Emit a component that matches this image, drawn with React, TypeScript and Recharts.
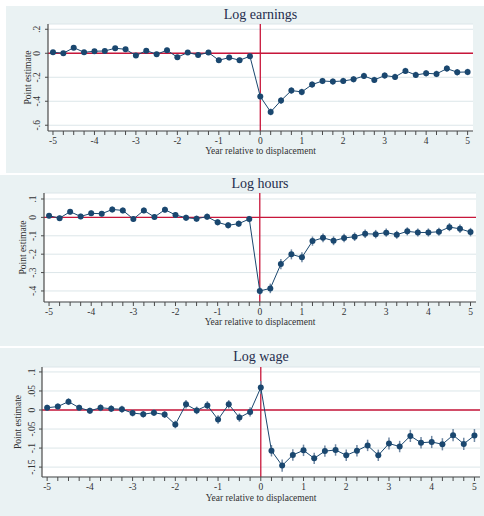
import React from "react";
import { LineChart, Line, XAxis, YAxis, CartesianGrid, ReferenceLine, ErrorBar } from "recharts";

const periods = [-5, -4.75, -4.5, -4.25, -4, -3.75, -3.5, -3.25, -3, -2.75, -2.5, -2.25, -2, -1.75, -1.5, -1.25, -1, -0.75, -0.5, -0.25, 0, 0.25, 0.5, 0.75, 1, 1.25, 1.5, 1.75, 2, 2.25, 2.5, 2.75, 3, 3.25, 3.5, 3.75, 4, 4.25, 4.5, 4.75, 5];

const earnings = [0.008, 0, 0.047, 0.008, 0.017, 0.019, 0.042, 0.033, -0.019, 0.022, -0.008, 0.025, -0.033, 0.006, -0.014, 0.006, -0.058, -0.036, -0.058, -0.025, -0.361, -0.489, -0.394, -0.311, -0.322, -0.261, -0.231, -0.236, -0.231, -0.217, -0.189, -0.222, -0.186, -0.197, -0.147, -0.181, -0.167, -0.172, -0.128, -0.158, -0.156];
const earningsCI = [0.018, 0.018, 0.019, 0.018, 0.018, 0.019, 0.019, 0.019, 0.019, 0.02, 0.02, 0.02, 0.02, 0.02, 0.021, 0.021, 0.021, 0.022, 0.022, 0.022, 0.026, 0.028, 0.028, 0.027, 0.027, 0.026, 0.026, 0.026, 0.026, 0.026, 0.026, 0.026, 0.026, 0.026, 0.026, 0.026, 0.026, 0.027, 0.027, 0.027, 0.027];

const hours = [0.009, -0.004, 0.031, 0.005, 0.022, 0.02, 0.043, 0.038, -0.009, 0.038, 0.002, 0.042, 0.013, -0.002, -0.007, 0.004, -0.027, -0.043, -0.034, -0.009, -0.4, -0.386, -0.254, -0.201, -0.217, -0.129, -0.111, -0.127, -0.112, -0.105, -0.089, -0.091, -0.083, -0.094, -0.076, -0.082, -0.082, -0.078, -0.053, -0.062, -0.08];
const hoursCI = [0.014, 0.014, 0.015, 0.015, 0.015, 0.015, 0.016, 0.016, 0.016, 0.016, 0.016, 0.016, 0.016, 0.017, 0.017, 0.017, 0.017, 0.017, 0.017, 0.017, 0.022, 0.026, 0.028, 0.027, 0.027, 0.025, 0.024, 0.024, 0.023, 0.023, 0.023, 0.023, 0.022, 0.022, 0.022, 0.022, 0.022, 0.022, 0.022, 0.023, 0.023];

const wage = [0.006, 0.009, 0.022, 0.006, -0.002, 0.006, 0.0035, 0.002, -0.008, -0.011, -0.007, -0.012, -0.038, 0.015, -0.001, 0.012, -0.025, 0.015, -0.02, -0.005, 0.059, -0.107, -0.146, -0.118, -0.106, -0.127, -0.108, -0.105, -0.119, -0.107, -0.093, -0.119, -0.088, -0.096, -0.068, -0.086, -0.084, -0.09, -0.066, -0.089, -0.067];
const wageCI = [0.008, 0.008, 0.009, 0.008, 0.008, 0.009, 0.009, 0.009, 0.009, 0.009, 0.009, 0.009, 0.01, 0.011, 0.01, 0.011, 0.011, 0.011, 0.011, 0.012, 0.017, 0.015, 0.016, 0.015, 0.015, 0.015, 0.015, 0.015, 0.015, 0.015, 0.015, 0.015, 0.016, 0.015, 0.016, 0.015, 0.016, 0.016, 0.016, 0.016, 0.017];

const earningsTicks = [-0.6, -0.4, -0.2, 0, 0.2];
const hoursTicks = [-0.4, -0.3, -0.2, -0.1, 0, 0.1];
const wageTicks = [-0.15, -0.1, -0.05, 0, 0.05, 0.1];

const titles = ["Log earnings", "Log hours", "Log wage"];
const xTitle = "Year relative to displacement";
const yTitle = "Point estimate";

const FONT = '"Liberation Serif", "Times New Roman", serif';
const BG = "#eaf2f3";
const NAVY = "#1a476f";
const RED = "#c8163a";
const AXIS = "#4a4a4a";

const stataFmt = (v: number) => {
  if (Math.abs(v) < 1e-9) return "0";
  const s = Math.abs(Number(v.toFixed(4))).toString().replace(/^0/, "");
  return (v < 0 ? "-" : "") + s;
};

type PanelProps = {
  title: string;
  values: number[];
  ci: number[];
  yDomain: [number, number];
  yTicks: number[];
  box: { left: number; top: number; width: number; height: number };
  top: number;
  right: number;
  yAxisWidth: number;
  xAxisHeight: number;
  tickOff: number;
  yLabelOff: number;
  xLabelOff: number;
};

function Panel(p: PanelProps) {
  const data = periods.map((t, i) => ({ t, v: p.values[i], e: p.ci[i] }));
  const plotLeft = p.yAxisWidth;
  const plotRight = p.box.width - p.right;
  const plotTop = p.top;
  const plotBottom = p.box.height - p.xAxisHeight;
  const plotCx = (plotLeft + plotRight) / 2;
  const plotCy = (plotTop + plotBottom) / 2;

  const XTick = (props: any) => {
    const { x, y, payload } = props;
    const v = payload.value;
    if (!Number.isInteger(v)) return <g />;
    return (
      <text x={x} y={y + 4} textAnchor="middle" dominantBaseline="central" fontSize={9.5} fill="#333" fontFamily={FONT}>
        {stataFmt(v)}
      </text>
    );
  };
  const YTick = (props: any) => {
    const { y, payload } = props;
    const cx = plotLeft - p.tickOff;
    return (
      <text x={cx} y={y} textAnchor="middle" dominantBaseline="central" fontSize={9.5} fill="#333" fontFamily={FONT} transform={`rotate(-90, ${cx}, ${y})`}>
        {stataFmt(payload.value)}
      </text>
    );
  };
  const XLabel = () => (
    <text x={plotCx} y={plotBottom + p.xLabelOff} textAnchor="middle" dominantBaseline="central" fontSize={9.5} fill="#333" fontFamily={FONT}>
      {xTitle}
    </text>
  );
  const YLabel = () => {
    const cx = plotLeft - p.yLabelOff;
    return (
      <text x={cx} y={plotCy} textAnchor="middle" dominantBaseline="central" fontSize={9.5} fill="#333" fontFamily={FONT} transform={`rotate(-90, ${cx}, ${plotCy})`}>
        {yTitle}
      </text>
    );
  };

  return (
    <div style={{ position: "absolute", left: p.box.left, top: p.box.top, width: p.box.width, height: p.box.height, background: BG }}>
      <div style={{ position: "absolute", left: plotLeft, width: plotRight - plotLeft, top: 1, height: 16, lineHeight: "16px", textAlign: "center", fontFamily: FONT, fontSize: 14, color: "#1f2d4d" }}>
        {p.title}
      </div>
      <LineChart width={p.box.width} height={p.box.height} data={data} margin={{ top: p.top, right: p.right, bottom: 0, left: 0 }}>
        <CartesianGrid horizontal vertical={false} fill="#ffffff" stroke="#dce6e9" strokeWidth={1} />
        <XAxis
          dataKey="t"
          type="number"
          domain={[-5.12, 5.13]}
          ticks={periods}
          interval={0}
          height={p.xAxisHeight}
          tickSize={4}
          tickMargin={2}
          axisLine={{ stroke: AXIS, strokeWidth: 1.2 }}
          tickLine={{ stroke: AXIS }}
          tick={XTick}
          label={XLabel}
        />
        <YAxis
          type="number"
          domain={p.yDomain}
          ticks={p.yTicks}
          interval={0}
          allowDataOverflow
          width={p.yAxisWidth}
          tickSize={3}
          axisLine={{ stroke: AXIS, strokeWidth: 1.2 }}
          tickLine={{ stroke: AXIS }}
          tick={YTick}
          label={YLabel}
        />
        <ReferenceLine y={0} stroke={RED} strokeWidth={1.3} />
        <ReferenceLine x={0} stroke={RED} strokeWidth={1.3} />
        <Line
          type="linear"
          dataKey="v"
          stroke={NAVY}
          strokeWidth={1}
          dot={{ r: 3, fill: NAVY, stroke: NAVY, strokeWidth: 0 }}
          isAnimationActive={false}
        >
          <ErrorBar dataKey="e" direction="y" width={0} stroke="#7088a3" strokeWidth={1.5} isAnimationActive={false} />
        </Line>
      </LineChart>
    </div>
  );
}

export default function App() {
  return (
    <div style={{ position: "absolute", left: 0, top: 0, width: 484, height: 516, background: "#ffffff", overflow: "hidden" }}>
      <Panel
        title={titles[0]}
        values={earnings}
        ci={earningsCI}
        yDomain={[-0.648, 0.244]}
        yTicks={earningsTicks}
        box={{ left: 6, top: 6, width: 478, height: 167 }}
        top={18}
        right={11}
        yAxisWidth={42}
        xAxisHeight={42}
        tickOff={11}
        yLabelOff={20}
        xLabelOff={20}
      />
      <Panel
        title={titles[1]}
        values={hours}
        ci={hoursCI}
        yDomain={[-0.46, 0.1326]}
        yTicks={hoursTicks}
        box={{ left: 0, top: 175, width: 484, height: 171 }}
        top={18}
        right={8}
        yAxisWidth={44}
        xAxisHeight={44}
        tickOff={11}
        yLabelOff={21}
        xLabelOff={20}
      />
      <Panel
        title={titles[2]}
        values={wage}
        ci={wageCI}
        yDomain={[-0.176, 0.113]}
        yTicks={wageTicks}
        box={{ left: 0, top: 348, width: 484, height: 168 }}
        top={19}
        right={4}
        yAxisWidth={42}
        xAxisHeight={39}
        tickOff={10}
        yLabelOff={24}
        xLabelOff={21}
      />
    </div>
  );
}
